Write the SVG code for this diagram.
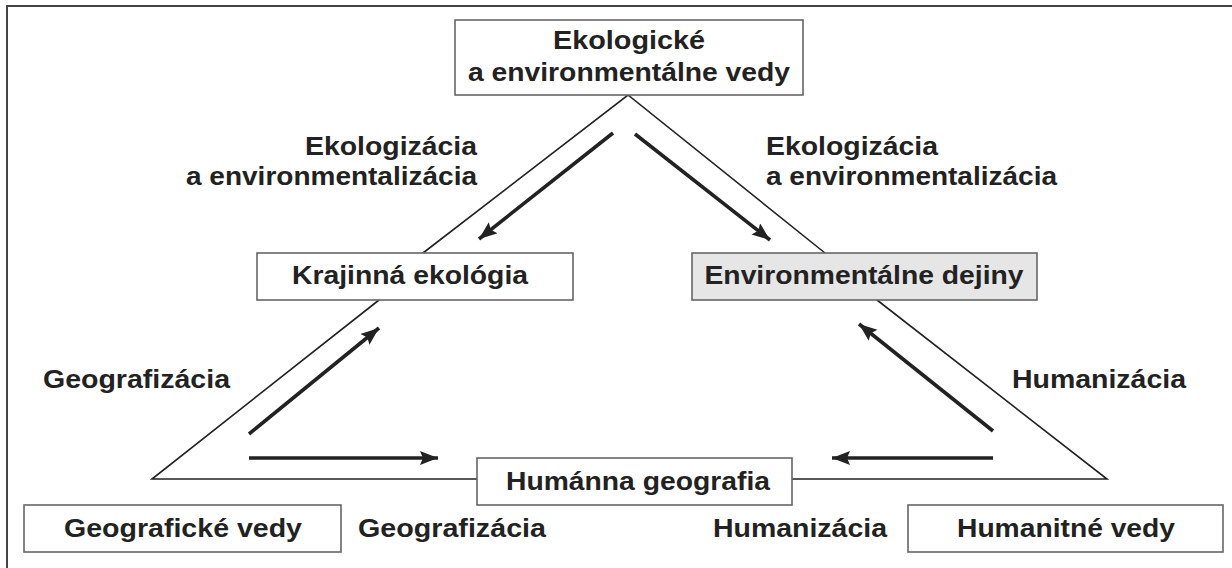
<svg xmlns="http://www.w3.org/2000/svg" width="1232" height="568" viewBox="0 0 1232 568">
<style>
.box{fill:#fff;stroke:#666;stroke-width:1.6}
.grey{fill:#e6e6e6}
.t{font-family:"Liberation Sans",Arial,sans-serif;font-weight:bold;font-size:25px;fill:#222}
.m{text-anchor:middle}
.e{text-anchor:end}
.tri{stroke:#222;stroke-width:1.6;fill:none;stroke-linecap:round}
.arr{stroke:#222;stroke-width:3.6;fill:none;marker-end:url(#ah)}
.frame{stroke:#444;stroke-width:2;fill:none}
</style>
<defs>
<marker id="ah" markerUnits="userSpaceOnUse" markerWidth="20" markerHeight="16" refX="18" refY="7" orient="auto">
<path d="M0,0 L18,7 L0,14 L3,7 Z" fill="#222"/>
</marker>
</defs>
<rect width="1232" height="568" fill="#fff"/>
<path class="frame" d="M7,568 V6 H1232"/>
<g id="connectors">
<path class="tri" d="M423,253 L628,95 L825,253"/>
<path class="tri" d="M379,300 L152,479 L477,479"/>
<path class="tri" d="M877,300 L1107,479 L792,479"/>
<line class="arr" x1="613" y1="133" x2="479" y2="239"/>
<line class="arr" x1="635" y1="134" x2="770" y2="240"/>
<line class="arr" x1="249" y1="434" x2="379" y2="328"/>
<line class="arr" x1="249" y1="458" x2="438" y2="458"/>
<line class="arr" x1="993" y1="431" x2="859" y2="324"/>
<line class="arr" x1="993" y1="458" x2="832" y2="458"/>
</g>
<g id="labels">
<text class="t e" x="477" y="155" textLength="172" lengthAdjust="spacingAndGlyphs">Ekologizácia</text>
<text class="t e" x="477" y="185" textLength="291" lengthAdjust="spacingAndGlyphs">a environmentalizácia</text>
<text class="t" x="766" y="155" textLength="172" lengthAdjust="spacingAndGlyphs">Ekologizácia</text>
<text class="t" x="766" y="185" textLength="291" lengthAdjust="spacingAndGlyphs">a environmentalizácia</text>
<text class="t" x="43" y="388" textLength="187" lengthAdjust="spacingAndGlyphs">Geografizácia</text>
<text class="t" x="1012" y="388" textLength="174" lengthAdjust="spacingAndGlyphs">Humanizácia</text>
<text class="t" x="358" y="537" textLength="188" lengthAdjust="spacingAndGlyphs">Geografizácia</text>
<text class="t" x="713" y="537" textLength="174" lengthAdjust="spacingAndGlyphs">Humanizácia</text>
</g>
<g id="node-ekologicke">
<rect class="box" x="455" y="20" width="348" height="75"/>
<text class="t m" x="629" y="49" textLength="152" lengthAdjust="spacingAndGlyphs">Ekologické</text>
<text class="t m" x="629" y="81" textLength="322" lengthAdjust="spacingAndGlyphs">a environmentálne vedy</text>
</g>
<g id="node-krajinna">
<rect class="box" x="257" y="253" width="316" height="47"/>
<text class="t m" x="410" y="284" textLength="236" lengthAdjust="spacingAndGlyphs">Krajinná ekológia</text>
</g>
<g id="node-environmentalne">
<rect class="box grey" x="692" y="253" width="345" height="47"/>
<text class="t m" x="864" y="284" textLength="319" lengthAdjust="spacingAndGlyphs">Environmentálne dejiny</text>
</g>
<g id="node-humanna">
<rect class="box" x="477" y="458" width="315" height="47"/>
<text class="t m" x="638" y="490" textLength="264" lengthAdjust="spacingAndGlyphs">Humánna geografia</text>
</g>
<g id="node-geograficke">
<rect class="box" x="24" y="505" width="317" height="47"/>
<text class="t m" x="183" y="537" textLength="238" lengthAdjust="spacingAndGlyphs">Geografické vedy</text>
</g>
<g id="node-humanitne">
<rect class="box" x="908" y="505" width="315" height="47"/>
<text class="t m" x="1066" y="537" textLength="218" lengthAdjust="spacingAndGlyphs">Humanitné vedy</text>
</g>
</svg>
